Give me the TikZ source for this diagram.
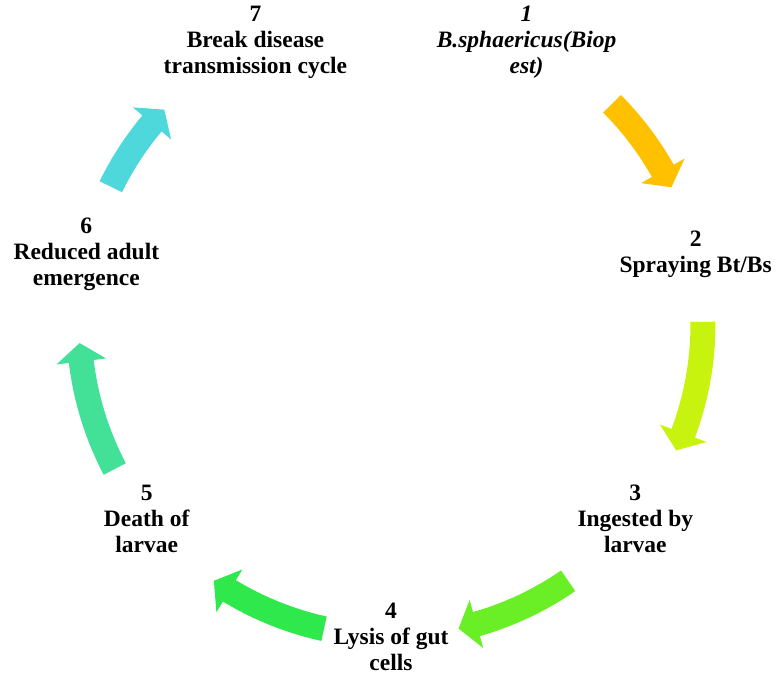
\documentclass[tikz,border=0pt]{standalone}
\usepackage{fontspec}
\setmainfont{Liberation Serif}
\usetikzlibrary{calc}

\definecolor{arrA}{HTML}{FFC000}
\definecolor{arrB}{HTML}{C8F30F}
\definecolor{arrC}{HTML}{6AEE25}
\definecolor{arrD}{HTML}{2EE84C}
\definecolor{arrE}{HTML}{43E098}
\definecolor{arrF}{HTML}{4ED8DC}

\begin{document}
\begin{tikzpicture}[x=1pt, y=1pt, lbl/.style = {align=center, inner sep=0pt, font=\fontsize{23.5}{26}\selectfont\bfseries}]
\useasboundingbox (0,0) rectangle (780,677);
\coordinate (c) at (391,353);

\node[lbl] (1) at ($(c)+(64.29:312.5)$) {\itshape 1\\\itshape B.sphaericus(Biop\\\itshape est)};
\node[lbl] (2) at ($(c)+(12.86:312.5)$) {2\\Spraying Bt/Bs};
\node[lbl] (3) at ($(c)+(-38.57:312.5)$) {3\\Ingested by\\larvae};
\node[lbl] (4) at ($(c)+(-90:312.5)$) {4\\Lysis of gut\\cells};
\node[lbl] (5) at ($(c)+(-141.43:312.5)$) {5\\Death of\\larvae};
\node[lbl] (6) at ($(c)+(167.14:312.5)$) {6\\Reduced adult\\emergence};
\node[lbl] (7) at ($(c)+(115.71:312.5)$) {7\\Break disease\\transmission cycle};

% curved block arrows round the cycle
\foreach \s/\e/\col in {44.9/26/arrA, 0.4/-23.9/arrB, -55.4/-77.5/arrC, -102.4/-124.6/arrD, -152.3/-176.5/arrE, 153.9/136.6/arrF}
  \fill[\col, shift={(c)}] (\s:324.5) arc[start angle=\s, end angle=\e+3.4, radius=324.5]
    -- (\e+3.4:337) -- (\e:312) -- (\e+3.4:287) -- (\e+3.4:299.5)
    arc[start angle=\e+3.4, end angle=\s, radius=299.5] -- cycle;
\end{tikzpicture}
\end{document}
